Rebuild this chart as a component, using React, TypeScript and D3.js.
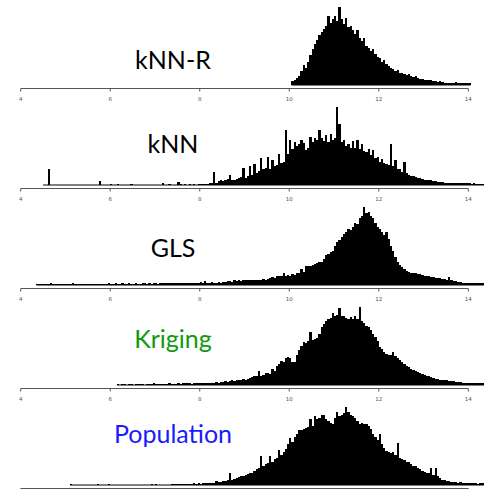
import * as d3 from 'd3';

// bin width of every histogram, in x units
const BIN = 0.05;
const ticks = [4, 6, 8, 10, 12, 14];

// heights are relative counts, 100 = tallest bar of the panel
const knnRStart = 10.05;
const knnRCounts = [
  5, 7, 9, 12, 18, 26, 22, 30, 38, 46, 52, 58, 64, 68, 72, 76, 88, 80, 84, 88,
  82, 100, 84, 78, 86, 74, 76, 70, 66, 70, 60, 56, 60, 50, 48, 44, 46, 40, 36, 34,
  30, 32, 27, 24, 22, 21, 18, 19, 16, 15, 14, 13, 14, 11, 10, 11, 9, 8, 8, 7,
  7, 6, 6, 5, 5, 4, 5, 4, 3, 3, 3, 2, 2, 4, 2, 3, 2, 2, 2, 2,
];

const knnStart = 4.5;
const knnCounts = [
  0, 0, 21, 0, 0, 0, 0, 0, 0, 0, 0, 0, 0, 0, 0, 0, 0, 0, 0, 0,
  0, 0, 0, 0, 0, 5, 0, 0, 0, 0, 1, 0, 0, 1, 0, 0, 0, 0, 0, 1,
  0, 0, 0, 0, 0, 0, 0, 0, 0, 0, 0, 0, 0, 3, 0, 0, 1, 0, 0, 0,
  4, 1, 0, 1, 0, 1, 0, 1, 0, 1, 1, 1, 1, 1, 2, 2, 17, 3, 5, 6,
  5, 7, 8, 13, 6, 7, 8, 9, 10, 22, 9, 11, 25, 13, 27, 15, 18, 34, 20, 22,
  36, 21, 32, 24, 26, 40, 28, 30, 70, 40, 58, 46, 55, 50, 52, 58, 54, 45, 48, 62,
  55, 60, 58, 71, 60, 56, 64, 55, 66, 58, 60, 100, 78, 55, 58, 50, 52, 48, 56, 47,
  58, 46, 52, 44, 42, 46, 38, 45, 34, 36, 30, 33, 28, 27, 26, 52, 24, 32, 21, 20,
  17, 30, 15, 13, 12, 11, 10, 9, 9, 8, 7, 7, 6, 6, 5, 5, 4, 4, 4, 3,
  3, 3, 3, 2, 3, 2, 2, 2, 2, 2, 2, 1, 2, 1, 1, 1, 1, 1,
];

const glsStart = 4.35;
const glsCounts = [
  1, 1, 1, 1, 1, 1, 2, 1, 1, 1, 1, 1, 1, 1, 1, 1, 2, 1, 1, 1,
  1, 1, 1, 1, 1, 1, 1, 1, 1, 1, 1, 1, 3, 1, 1, 2, 1, 1, 2, 1,
  1, 2, 1, 1, 2, 1, 1, 2, 2, 1, 2, 1, 2, 2, 1, 2, 3, 2, 2, 3,
  2, 2, 3, 2, 2, 3, 2, 2, 3, 2, 3, 3, 3, 4, 2, 5, 3, 3, 4, 3,
  3, 4, 3, 4, 4, 5, 5, 4, 6, 5, 6, 5, 6, 6, 7, 6, 6, 7, 6, 7,
  7, 8, 7, 8, 9, 10, 9, 11, 12, 12, 15, 12, 13, 12, 14, 13, 15, 16, 21, 17,
  24, 25, 25, 26, 27, 28, 29, 30, 33, 38, 40, 42, 44, 50, 55, 58, 62, 66, 68, 72,
  70, 74, 79, 78, 86, 88, 100, 92, 94, 88, 86, 80, 74, 72, 68, 64, 68, 59, 50, 44,
  36, 29, 26, 23, 20, 18, 17, 16, 16, 15, 14, 14, 13, 12, 12, 11, 10, 10, 9, 9,
  9, 8, 8, 7, 10, 6, 5, 5, 4, 4, 3, 3, 3, 3, 3, 2, 2, 2, 2, 2, 2,
];

const krigingStart = 6.15;
const krigingCounts = [
  1, 0, 1, 1, 0, 1, 1, 0, 1, 1, 1, 1, 0, 1, 1, 1, 2, 1, 1, 1,
  1, 1, 1, 2, 1, 1, 1, 2, 1, 2, 3, 2, 2, 1, 2, 2, 3, 3, 2, 3,
  3, 3, 2, 3, 4, 3, 4, 4, 5, 4, 5, 6, 5, 6, 6, 7, 8, 7, 8, 9,
  10, 12, 11, 18, 12, 13, 15, 16, 14, 20, 18, 24, 27, 31, 30, 35, 36, 34, 30, 29,
  38, 45, 50, 55, 54, 57, 68, 58, 59, 60, 66, 75, 78, 82, 84, 86, 92, 88, 90, 99,
  89, 88, 86, 84, 87, 85, 88, 84, 100, 82, 79, 76, 75, 70, 66, 62, 56, 49, 46, 42,
  40, 38, 39, 42, 37, 34, 32, 30, 27, 25, 23, 20, 19, 18, 17, 16, 14, 13, 12, 11,
  10, 9, 8, 8, 7, 6, 6, 6, 5, 5, 5, 4, 4, 4, 3, 3, 3, 3, 2, 2, 2, 2, 2, 2, 1,
];

const populationStart = 5.1;
const populationCounts = [
  1, 0, 0, 0, 0, 0, 0, 0, 0, 0, 0, 0, 1, 0, 0, 0, 0, 1, 0, 0,
  0, 0, 0, 0, 0, 0, 0, 0, 0, 0, 0, 0, 0, 0, 0, 0, 1, 0, 1, 0,
  0, 0, 0, 0, 0, 1, 1, 1, 1, 1, 1, 1, 1, 1, 1, 2, 1, 2, 1, 2,
  2, 2, 2, 3, 3, 5, 4, 4, 5, 5, 6, 15, 6, 8, 9, 10, 11, 12, 13, 14,
  15, 16, 18, 20, 22, 37, 25, 27, 28, 37, 30, 33, 35, 45, 39, 42, 46, 52, 60, 55,
  62, 66, 70, 71, 72, 73, 75, 85, 76, 88, 84, 86, 90, 90, 85, 82, 80, 78, 86, 93,
  88, 90, 92, 100, 94, 90, 88, 86, 82, 78, 80, 78, 78, 76, 72, 66, 62, 58, 66, 52,
  47, 43, 42, 41, 42, 38, 54, 34, 33, 32, 30, 29, 27, 25, 24, 22, 20, 18, 17, 16,
  15, 22, 13, 22, 11, 9, 7, 6, 5, 5, 4, 4, 4, 3, 4, 3, 3, 2, 2, 3,
  2, 2, 1, 2, 2, 1,
];

const panels = [
  { label: 'kNN-R', color: '#000000', start: knnRStart, counts: knnRCounts, labelY: 69 },
  { label: 'kNN', color: '#000000', start: knnStart, counts: knnCounts, labelY: 153 },
  { label: 'GLS', color: '#000000', start: glsStart, counts: glsCounts, labelY: 257 },
  { label: 'Kriging', color: '#119911', start: krigingStart, counts: krigingCounts, labelY: 348 },
  { label: 'Population', color: '#1a1aff', start: populationStart, counts: populationCounts, labelY: 443 },
];

const App = () => {
  const width = 484;
  const height = 489;
  const x = d3.scaleLinear().domain([4, 14]).range([20.7, 468.3]);
  const barW = x(4 + BIN) - x(4);

  return (
    <svg
      width={width}
      height={height}
      style={{ position: 'absolute', left: 0, top: 0, background: '#fff' }}
    >
      {panels.map((p, i) => {
        const axisY = 88.5 + i * 100;
        const baseY = axisY - 3.5;
        const y = d3.scaleLinear().domain([0, 100]).range([baseY, baseY - 78]);
        const end = p.start + p.counts.length * BIN;
        // the last panel's tick labels fall below the bottom edge
        const showLabels = i < panels.length - 1;
        return (
          <g key={p.label}>
            <g shapeRendering="crispEdges">
              {p.counts.map((c, j) =>
                c > 0 ? (
                  <rect
                    key={j}
                    x={x(p.start + j * BIN)}
                    y={y(c)}
                    width={barW}
                    height={baseY - y(c)}
                    fill="#000"
                  />
                ) : null
              )}
            </g>
            <line x1={x(p.start)} x2={x(end)} y1={baseY} y2={baseY} stroke="#000" strokeWidth={1} />
            <line x1={x(4)} x2={x(14)} y1={axisY} y2={axisY} stroke="#555" strokeWidth={1} />
            {ticks.map(t => (
              <g key={t}>
                <line x1={x(t)} x2={x(t)} y1={axisY} y2={axisY + 3} stroke="#555" strokeWidth={1} />
                {showLabels && (
                  <text
                    x={x(t)}
                    y={axisY + 12.5}
                    textAnchor="middle"
                    fontFamily="DejaVu Sans"
                    fontSize={5.5}
                    fill="#555"
                  >
                    {t}
                  </text>
                )}
              </g>
            ))}
            <text
              x={173}
              y={p.labelY}
              textAnchor="middle"
              fontFamily="Lato"
              fontSize={25}
              fill={p.color}
            >
              {p.label}
            </text>
          </g>
        );
      })}
    </svg>
  );
};

export default App;
